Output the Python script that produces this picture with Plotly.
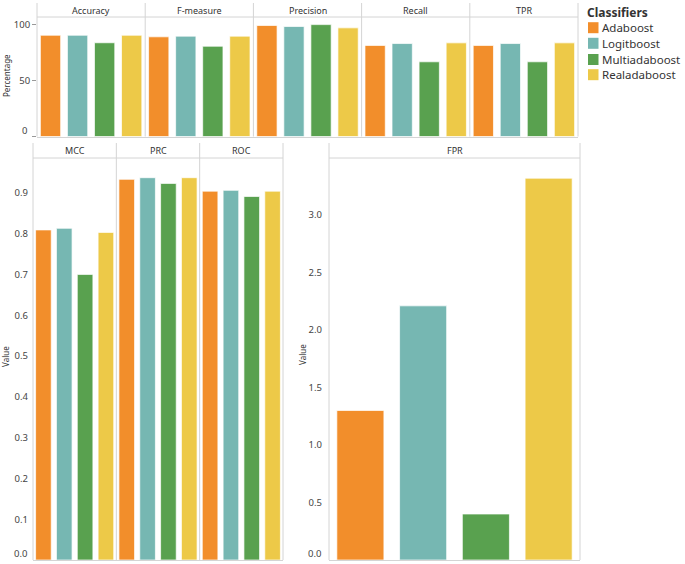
import plotly.graph_objects as go

W, H = 685, 564

classifiers = ["Adaboost", "Logitboost", "Multiadaboost", "Realadaboost"]
colors = ["#F28E2B", "#76B7B2", "#59A14F", "#EDC948"]

pct_metrics = ["Accuracy", "F-measure", "Precision", "Recall", "TPR"]
adaboost_pct = [90.4, 89.0, 99.1, 81.3, 81.3]
logitboost_pct = [90.4, 89.6, 98.2, 83.0, 83.0]
multiadaboost_pct = [83.7, 80.6, 99.9, 66.7, 66.7]
realadaboost_pct = [90.4, 89.6, 97.0, 83.6, 83.6]

val_metrics = ["MCC", "PRC", "ROC"]
adaboost_val = [0.809, 0.933, 0.904]
logitboost_val = [0.813, 0.937, 0.906]
multiadaboost_val = [0.700, 0.923, 0.891]
realadaboost_val = [0.803, 0.937, 0.904]

fpr_metric = "FPR"
fpr_values = [1.30, 2.21, 0.40, 3.32]

pct_ticks = [0, 50, 100]
val_ticks = [0.0, 0.1, 0.2, 0.3, 0.4, 0.5, 0.6, 0.7, 0.8, 0.9]
fpr_ticks = [0.0, 0.5, 1.0, 1.5, 2.0, 2.5, 3.0]

pct_series = [adaboost_pct, logitboost_pct, multiadaboost_pct, realadaboost_pct]
val_series = [adaboost_val, logitboost_val, multiadaboost_val, realadaboost_val]

FONT = "Noto Sans"
GRID = "#d4d4d4"
TICKFONT = dict(size=9.5, color="#444")


def fx(p):
    return p / W


def fy(p):
    return 1 - p / H


fig = go.Figure()
layout = dict(
    width=W, height=H, margin=dict(l=0, r=0, t=0, b=0),
    paper_bgcolor="white", plot_bgcolor="white",
    barmode="overlay", bargap=0.25, showlegend=False,
    font=dict(family=FONT, size=10, color="#444"),
)
shapes = []
annotations = []


def text(x, y, t, size, color="#333", xanchor="center", angle=0):
    annotations.append(dict(x=fx(x), y=fy(y), xref="paper", yref="paper", text=t,
                            showarrow=False, xanchor=xanchor, yanchor="middle",
                            borderpad=0, textangle=angle, font=dict(size=size, color=color)))


def xaxis_cfg(x0, x1, anchor):
    return dict(domain=[fx(x0), fx(x1)], type="category",
                categoryorder="array", categoryarray=classifiers,
                range=[-0.5, 3.5], showticklabels=False, ticks="",
                showgrid=False, zeroline=False, showline=True,
                linecolor=GRID, linewidth=1, anchor=anchor, fixedrange=True)


def header(x0, x1, ytop, ybot, t):
    shapes.append(dict(type="line", xref="paper", yref="paper",
                       x0=fx(x0), x1=fx(x1), y0=fy(ybot), y1=fy(ybot),
                       line=dict(color=GRID, width=1)))
    text((x0 + x1) / 2, (ytop + ybot) / 2 + 0.5, t, 9)


def vline(x, ytop, ybot):
    shapes.append(dict(type="line", xref="paper", yref="paper",
                       x0=fx(x), x1=fx(x), y0=fy(ytop), y1=fy(ybot),
                       line=dict(color=GRID, width=1)))


def bar_marker(c):
    return dict(color=colors[c], line=dict(color="rgba(255,255,255,0.7)", width=1))


ax = 0
# ---- top panel (percentage) ----
top_l, top_r, top_t, top_b, top_h = 37, 578, 17, 136.5, 3
fw = (top_r - top_l) / len(pct_metrics)
for m, metric in enumerate(pct_metrics):
    ax += 1
    x0 = top_l + m * fw
    x1 = x0 + fw
    name = "xaxis" if ax == 1 else f"xaxis{ax}"
    layout[name] = xaxis_cfg(x0, x1, "y")
    for c, cl in enumerate(classifiers):
        fig.add_trace(go.Bar(x=[cl], y=[pct_series[c][m]], marker=bar_marker(c),
                             name=cl, xaxis="x" if ax == 1 else f"x{ax}", yaxis="y"))
    header(x0, x1, top_h, top_t, metric)
    vline(x0, top_h, top_b)
vline(top_r, top_h, top_b)
layout["yaxis"] = dict(domain=[fy(top_b), fy(top_t)], range=[0, (top_b - top_t) / 1.12],
                       tickvals=pct_ticks, ticktext=["" if v == 0 else str(v) for v in pct_ticks],
                       ticks="outside", ticklen=4, tickcolor="#999",
                       showgrid=False, zeroline=False, showline=False, anchor="x",
                       tickfont=TICKFONT, fixedrange=True)
text(28, 130, str(pct_ticks[0]), 9.5, "#444", xanchor="right")
text(7, 76, "Percentage", 8, angle=-90)

# ---- bottom-left panel (value) ----
bl_l, bl_r, bl_t, bl_b, bl_h = 33, 283, 158, 560, 143
fw2 = (bl_r - bl_l) / len(val_metrics)
first_bl = ax + 1
for m, metric in enumerate(val_metrics):
    ax += 1
    x0 = bl_l + m * fw2
    x1 = x0 + fw2
    layout[f"xaxis{ax}"] = xaxis_cfg(x0, x1, "y2")
    for c, cl in enumerate(classifiers):
        fig.add_trace(go.Bar(x=[cl], y=[val_series[c][m]], marker=bar_marker(c),
                             name=cl, xaxis=f"x{ax}", yaxis="y2"))
    header(x0, x1, bl_h, bl_t, metric)
    vline(x0, bl_h, bl_b)
vline(bl_r, bl_h, bl_b)
layout["yaxis2"] = dict(domain=[fy(bl_b), fy(bl_t)], range=[0, (bl_b - bl_t) / 408],
                        tickvals=val_ticks[1:], ticktext=[f"{v:.1f}" for v in val_ticks[1:]],
                        ticks="", ticklabelstandoff=4,
                        showgrid=False, zeroline=False, showline=False, anchor=f"x{first_bl}",
                        tickfont=TICKFONT, fixedrange=True)
text(28, 553, f"{val_ticks[0]:.1f}", 9.5, "#444", xanchor="right")
text(5, 357, "Value", 8, angle=-90)

# ---- FPR panel ----
fp_l, fp_r = 329, 580
ax += 1
layout[f"xaxis{ax}"] = xaxis_cfg(fp_l, fp_r, "y3")
for c, cl in enumerate(classifiers):
    fig.add_trace(go.Bar(x=[cl], y=[fpr_values[c]], marker=bar_marker(c),
                         name=cl, xaxis=f"x{ax}", yaxis="y3"))
header(fp_l, fp_r, bl_h, bl_t, fpr_metric)
vline(fp_l, bl_h, bl_b)
vline(fp_r, bl_h, bl_b)
layout["yaxis3"] = dict(domain=[fy(bl_b), fy(bl_t)], range=[0, (bl_b - bl_t) / 115],
                        tickvals=fpr_ticks[1:], ticktext=[f"{v:.1f}" for v in fpr_ticks[1:]],
                        ticks="", ticklabelstandoff=6,
                        showgrid=False, zeroline=False, showline=False, anchor=f"x{ax}",
                        tickfont=TICKFONT, fixedrange=True)
text(322, 553, f"{fpr_ticks[0]:.1f}", 9.5, "#444", xanchor="right")
text(302, 355, "Value", 8, angle=-90)

# ---- legend (drawn manually) ----
text(586, 12.5, "<b>Classifiers</b>", 12, xanchor="left")
leg_y = [27.7, 43.3, 59.5, 74.7]
for c, cl in enumerate(classifiers):
    shapes.append(dict(type="rect", xref="paper", yref="paper",
                       x0=fx(588), x1=fx(598.5), y0=fy(leg_y[c] + 5.5), y1=fy(leg_y[c] - 5.5),
                       fillcolor=colors[c], line=dict(width=0)))
    text(601, leg_y[c], cl, 11.5, xanchor="left")

layout["shapes"] = shapes
layout["annotations"] = annotations
fig.update_layout(**layout)
fig.write_html("out.html", config={"displayModeBar": False},
               post_script="document.body.style.margin='0';")
